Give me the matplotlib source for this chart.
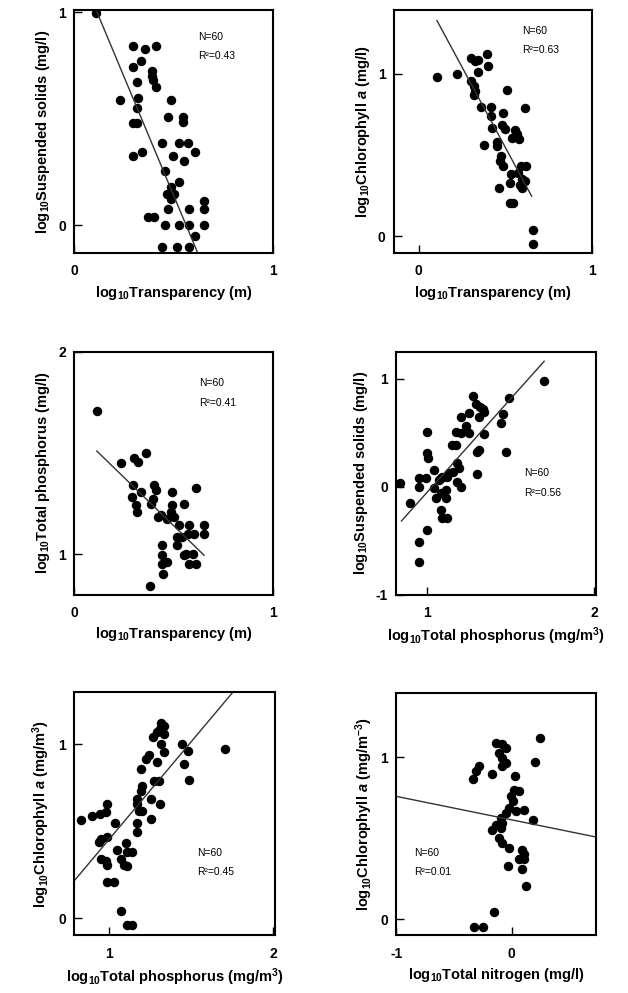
import matplotlib.pyplot as plt
import numpy as np

plt.rcParams["font.family"] = ["Liberation Sans", "DejaVu Sans"]
plt.rcParams["mathtext.fontset"] = "custom"
plt.rcParams["mathtext.rm"] = "Liberation Sans:bold"
plt.rcParams["mathtext.it"] = "Liberation Sans:bold:italic"
plt.rcParams["mathtext.bf"] = "Liberation Sans:bold"
plt.rcParams["axes.unicode_minus"] = False

# panel 1: transparency vs suspended solids
transp_1 = [0.109, 0.298, 0.357, 0.410, 0.335, 0.298, 0.390, 0.390, 0.394, 0.318,
            0.410, 0.229, 0.322, 0.486, 0.318, 0.472, 0.549, 0.549, 0.298, 0.318,
            0.444, 0.528, 0.570, 0.298, 0.340, 0.499, 0.606, 0.553, 0.457, 0.528,
            0.486, 0.469, 0.503, 0.486, 0.472, 0.578, 0.650, 0.650, 0.372, 0.402,
            0.457, 0.528, 0.578, 0.653, 0.606, 0.444, 0.516, 0.578]
ss_1 = [0.997, 0.843, 0.827, 0.843, 0.769, 0.741, 0.725, 0.702, 0.683, 0.670,
        0.648, 0.589, 0.597, 0.589, 0.549, 0.510, 0.510, 0.487, 0.482, 0.482,
        0.385, 0.385, 0.385, 0.327, 0.345, 0.327, 0.345, 0.303, 0.256, 0.204,
        0.181, 0.149, 0.149, 0.126, 0.075, 0.078, 0.115, 0.075, 0.039, 0.039,
        0.0, 0.0, 0.0, 0.0, -0.050, -0.099, -0.099, -0.099]

# panel 2: transparency vs chlorophyll a
transp_2 = [0.105, 0.223, 0.300, 0.324, 0.343, 0.397, 0.401, 0.343, 0.300, 0.320,
            0.324, 0.320, 0.508, 0.362, 0.417, 0.614, 0.417, 0.488, 0.421, 0.483,
            0.498, 0.556, 0.566, 0.537, 0.579, 0.378, 0.450, 0.450, 0.475, 0.469,
            0.488, 0.591, 0.620, 0.533, 0.572, 0.595, 0.614, 0.585, 0.527, 0.463,
            0.595, 0.527, 0.547, 0.663, 0.663]
chl_2 = [0.979, 1.000, 1.097, 1.082, 1.089, 1.124, 1.047, 1.010, 0.959, 0.928,
         0.897, 0.870, 0.901, 0.798, 0.794, 0.788, 0.738, 0.757, 0.670, 0.685,
         0.660, 0.656, 0.629, 0.608, 0.602, 0.561, 0.581, 0.557, 0.495, 0.464,
         0.433, 0.433, 0.433, 0.386, 0.392, 0.351, 0.340, 0.313, 0.330, 0.299,
         0.299, 0.206, 0.206, 0.041, -0.047]

# panel 3: transparency vs total phosphorus
transp_3 = [0.114, 0.235, 0.302, 0.322, 0.360, 0.298, 0.402, 0.410, 0.293, 0.335,
            0.394, 0.385, 0.310, 0.315, 0.494, 0.611, 0.419, 0.439, 0.494, 0.486,
            0.553, 0.469, 0.503, 0.528, 0.578, 0.653, 0.519, 0.570, 0.603, 0.653,
            0.544, 0.444, 0.519, 0.561, 0.595, 0.553, 0.444, 0.469, 0.444, 0.611,
            0.578, 0.449, 0.382]
tp_3 = [1.707, 1.448, 1.476, 1.456, 1.498, 1.341, 1.341, 1.316, 1.283, 1.308,
        1.275, 1.250, 1.242, 1.209, 1.305, 1.325, 1.185, 1.193, 1.242, 1.209,
        1.250, 1.176, 1.185, 1.143, 1.143, 1.143, 1.086, 1.102, 1.102, 1.102,
        1.086, 1.044, 1.044, 1.003, 1.003, 0.995, 0.995, 0.962, 0.954, 0.954,
        0.954, 0.904, 0.843]

# panel 4: total phosphorus vs suspended solids
tp_4 = [1.700, 1.274, 1.490, 1.290, 1.314, 1.334, 1.340, 1.454, 1.200, 1.250,
        1.440, 1.310, 1.000, 1.174, 1.230, 1.250, 1.200, 1.340, 1.150, 1.170,
        1.310, 1.300, 1.470, 1.000, 1.004, 1.180, 1.190, 1.040, 1.154, 1.300,
        1.090, 1.120, 1.130, 0.950, 0.990, 1.070, 1.080, 0.840, 0.950, 1.180,
        1.200, 1.040, 1.110, 1.080, 1.050, 1.114, 0.900, 1.080, 1.090, 1.120,
        1.000, 0.954, 0.954]
ss_4 = [0.975, 0.837, 0.822, 0.769, 0.738, 0.723, 0.692, 0.668, 0.646, 0.677,
        0.585, 0.646, 0.508, 0.508, 0.563, 0.492, 0.492, 0.483, 0.385, 0.385,
        0.338, 0.323, 0.323, 0.308, 0.262, 0.215, 0.175, 0.154, 0.138, 0.114,
        0.092, 0.092, 0.123, 0.083, 0.083, 0.062, 0.083, 0.037, 0.0, 0.046,
        0.0, -0.015, -0.031, -0.062, -0.102, -0.102, -0.154, -0.215, -0.292, -0.292,
        -0.400, -0.514, -0.698]

# panel 5: total phosphorus vs chlorophyll a
tp_5 = [1.320, 1.337, 1.312, 1.292, 1.337, 1.272, 1.316, 1.442, 1.479, 1.337,
        1.296, 1.245, 1.225, 1.195, 1.458, 1.489, 1.276, 1.306, 1.205, 1.195,
        1.170, 1.256, 1.312, 1.174, 1.185, 1.205, 0.992, 0.982, 0.947, 0.901,
        0.830, 1.037, 1.256, 1.174, 1.174, 0.951, 0.992, 0.941, 1.103, 1.053,
        1.114, 1.144, 0.951, 0.982, 0.992, 1.073, 1.093, 1.114, 0.992, 1.032,
        1.073, 1.114, 1.144, 1.706]
chl_5 = [1.125, 1.106, 1.090, 1.071, 1.058, 1.044, 1.000, 1.000, 0.962, 0.956,
         0.898, 0.937, 0.913, 0.860, 0.885, 0.794, 0.788, 0.788, 0.760, 0.731,
         0.683, 0.683, 0.654, 0.654, 0.615, 0.615, 0.654, 0.610, 0.596, 0.587,
         0.562, 0.548, 0.571, 0.548, 0.494, 0.452, 0.467, 0.437, 0.433, 0.394,
         0.379, 0.379, 0.337, 0.327, 0.308, 0.337, 0.308, 0.298, 0.206, 0.206,
         0.042, -0.038, -0.038, 0.975]

# panel 6: total nitrogen vs chlorophyll a
tn_6 = [0.241, 0.201, -0.138, -0.080, -0.052, -0.109, -0.080, -0.052, -0.080, -0.282,
        -0.305, -0.333, -0.172, 0.029, 0.020, 0.063, -0.009, 0.011, 0.106, 0.034,
        -0.023, -0.052, -0.095, 0.184, -0.080, -0.138, -0.167, -0.095, -0.109, -0.080,
        -0.023, 0.092, 0.106, 0.063, 0.106, -0.029, 0.092, 0.121, -0.152, -0.325,
        -0.247]
chl_6 = [1.117, 0.973, 1.086, 1.082, 1.055, 1.025, 0.994, 0.963, 0.947, 0.947,
         0.912, 0.865, 0.898, 0.881, 0.799, 0.789, 0.758, 0.727, 0.676, 0.666,
         0.686, 0.656, 0.625, 0.611, 0.594, 0.584, 0.553, 0.564, 0.502, 0.471,
         0.441, 0.430, 0.400, 0.369, 0.369, 0.328, 0.307, 0.205, 0.045, -0.047,
         -0.047]

# regression lines: slope, intercept, x range (None = across the whole axes)
slopes = [-2.23, -1.976, -0.954, 1.73, 1.127, -0.145]
intercepts = [1.256, 1.537, 1.618, -1.781, -0.677, 0.613]
line_ranges = [None, (0.105, 0.653), (0.114, 0.653), (0.846, 1.70), None, None]
r2_values = ["0.43", "0.63", "0.41", "0.56", "0.45", "0.01"]
stat_pos = [(0.625, 0.89), (0.65, 0.915), (0.63, 0.87), (0.64, 0.50), (0.61, 0.34), (0.09, 0.34)]

xlabels = ["log$_{10}$Transparency (m)", "log$_{10}$Transparency (m)",
           "log$_{10}$Transparency (m)", "log$_{10}$Total phosphorus (mg/m$^{3}$)",
           "log$_{10}$Total phosphorus (mg/m$^{3}$)", "log$_{10}$Total nitrogen (mg/l)"]
ylabels = ["log$_{10}$Suspended solids (mg/l)", "log$_{10}$Chlorophyll $a$ (mg/l)",
           "log$_{10}$Total phosphorus (mg/l)", "log$_{10}$Suspended solids (mg/l)",
           "log$_{10}$Chlorophyll $a$ (mg/m$^{3}$)", "log$_{10}$Chlorophyll $a$ (mg/m$^{-3}$)"]
xlims = [(0, 1), (-0.145, 1.0), (0, 1), (0.815, 2.01), (0.79, 2.01), (-1, 0.73)]
ylims = [(-0.13, 1.01), (-0.105, 1.395), (0.80, 2.0), (-1, 1.25), (-0.10, 1.30), (-0.10, 1.395)]
xticks = [[0, 1], [0, 1], [0, 1], [1, 2], [1, 2], [-1, 0]]
yticks = [[0, 1], [0, 1], [1, 2], [-1, 0, 1], [0, 1], [0, 1]]

xs = [transp_1, transp_2, transp_3, tp_4, tp_5, tn_6]
ys = [ss_1, chl_2, tp_3, ss_4, chl_5, chl_6]

positions = [
    [0.118, 0.745, 0.317, 0.245],
    [0.627, 0.745, 0.315, 0.245],
    [0.118, 0.401, 0.317, 0.245],
    [0.631, 0.401, 0.318, 0.245],
    [0.118, 0.058, 0.320, 0.245],
    [0.631, 0.058, 0.318, 0.244],
]

fig = plt.figure(figsize=(6.28, 9.93), dpi=100)

for i in range(6):
    ax = fig.add_axes(positions[i])
    ax.plot(xs[i], ys[i], "o", color="black", ms=5.8, mec="black")
    if line_ranges[i] is None:
        lx = np.array(xlims[i])
    else:
        lx = np.array(line_ranges[i])
    ax.plot(lx, slopes[i] * lx + intercepts[i], color="#333333", lw=1.0)
    ax.set_xlim(xlims[i])
    ax.set_ylim(ylims[i])
    ax.set_xticks(xticks[i])
    ax.set_yticks(yticks[i])
    ax.tick_params(direction="in", length=6, width=1)
    ax.tick_params(axis="x", pad=8)
    ax.tick_params(axis="y", pad=6)
    for lab in ax.get_xticklabels() + ax.get_yticklabels():
        lab.set_fontweight("bold")
        lab.set_fontsize(10)
    for sp in ax.spines.values():
        sp.set_linewidth(1.5)
    ax.set_xlabel(xlabels[i], fontsize=10.5, fontweight="bold", labelpad=4)
    ax.set_ylabel(ylabels[i], fontsize=10.5, fontweight="bold", labelpad=4)
    sx, sy = stat_pos[i]
    ax.text(sx, sy, "N=60", transform=ax.transAxes, fontsize=7.5, va="center")
    ax.text(sx, sy - 0.08, "R²=" + r2_values[i], transform=ax.transAxes, fontsize=7.5, va="center")

fig.savefig("out.png", dpi=100)
